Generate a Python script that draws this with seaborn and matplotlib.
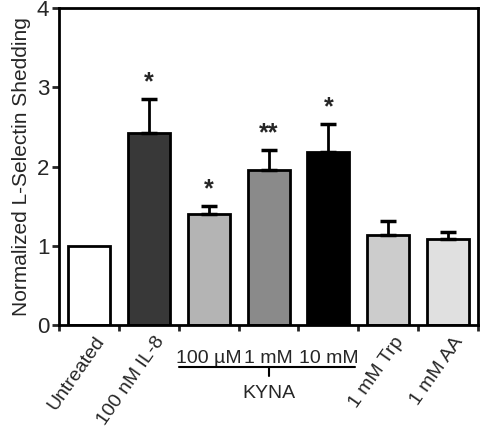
import numpy as np
import pandas as pd
import matplotlib
matplotlib.use("Agg")
import matplotlib.pyplot as plt
import matplotlib.transforms as mtransforms
import seaborn as sns

# --- Data ---
conditions = ["Untreated", "100 nM IL-8", "100 \u00b5M", "1 mM", "10 mM", "1 mM Trp", "1 mM AA"]
means = [1.00, 2.42, 1.40, 1.96, 2.19, 1.14, 1.09]
errors = [0.00, 0.43, 0.10, 0.25, 0.35, 0.17, 0.08]
stars = ["", "*", "*", "**", "*", "", ""]
bar_colors = ["#ffffff", "#383838", "#b4b4b4", "#8a8a8a", "#000000", "#cccccc", "#e0e0e0"]
kyna_group = ["100 \u00b5M", "1 mM", "10 mM"]

sns.set_style("white")
plt.rcParams["font.family"] = ["Liberation Sans", "DejaVu Sans"]

df = pd.DataFrame({"condition": conditions, "value": means})

fig = plt.figure(figsize=(4.8, 4.3), dpi=100)
ax = fig.add_axes([0.123, 0.244, 0.873, 0.737])

sns.barplot(data=df, x="condition", y="value", hue="condition", palette=bar_colors,
            edgecolor="black", linewidth=2, width=0.7, legend=False, ax=ax)

# upper error bars only (skip the untreated reference)
xs = np.arange(len(conditions))
has_err = np.array(errors) > 0
ax.errorbar(xs[has_err], np.array(means)[has_err],
            yerr=[np.zeros(has_err.sum()), np.array(errors)[has_err]], fmt="none",
            ecolor="black", elinewidth=2, capsize=6, capthick=2.5, zorder=1)

# significance markers
for x, m, e, s in zip(xs, means, errors, stars):
    if s:
        ax.text(x, m + e + 0.06, s, ha="center", va="bottom", fontsize=18, fontweight="bold")

ax.set_ylim(0, 4)
ax.set_xlim(-0.5, len(conditions) - 0.5)
ax.set_yticks([0, 1, 2, 3, 4])
ax.tick_params(axis="y", labelsize=16, direction="out", length=5, width=2, left=True, pad=2)
ax.set_ylabel("Normalized L-Selectin Shedding", fontsize=15, labelpad=4)
ax.set_xlabel("")

# x tick labels: rotated for singles, horizontal for the KYNA doses
ax.set_xticks(xs)
ax.set_xticklabels(conditions, fontsize=14)
ax.set_xticks(np.arange(-0.5, len(conditions), 1.0), minor=True)
ax.tick_params(axis="x", which="major", length=0, pad=6)
ax.tick_params(axis="x", which="minor", length=4, width=2, direction="out", bottom=True)
shift = mtransforms.ScaledTranslation(5 / 100, 0, fig.dpi_scale_trans)
for lab in ax.get_xticklabels():
    if lab.get_text() in kyna_group:
        lab.set_rotation(0)
        lab.set_ha("center")
        lab.set_va("center")
        lab.set_y(-0.079)
    else:
        lab.set_rotation(55)
        lab.set_ha("right")
        lab.set_va("top")
        lab.set_rotation_mode("anchor")
        lab.set_transform(lab.get_transform() + shift)

# KYNA bracket
trans = mtransforms.blended_transform_factory(ax.transData, ax.transAxes)
ax.plot([1.5, 4.45], [-0.1315, -0.1315], color="black", lw=1.5, transform=trans, clip_on=False)
ax.plot([3, 3], [-0.1315, -0.161], color="black", lw=1.5, transform=trans, clip_on=False)
ax.text(3, -0.2145, "KYNA", ha="center", va="center", fontsize=14, transform=trans)

for side in ["left", "right", "top", "bottom"]:
    ax.spines[side].set_visible(True)
    ax.spines[side].set_linewidth(2)
    ax.spines[side].set_color("black")

fig.savefig("out.png", dpi=100)
